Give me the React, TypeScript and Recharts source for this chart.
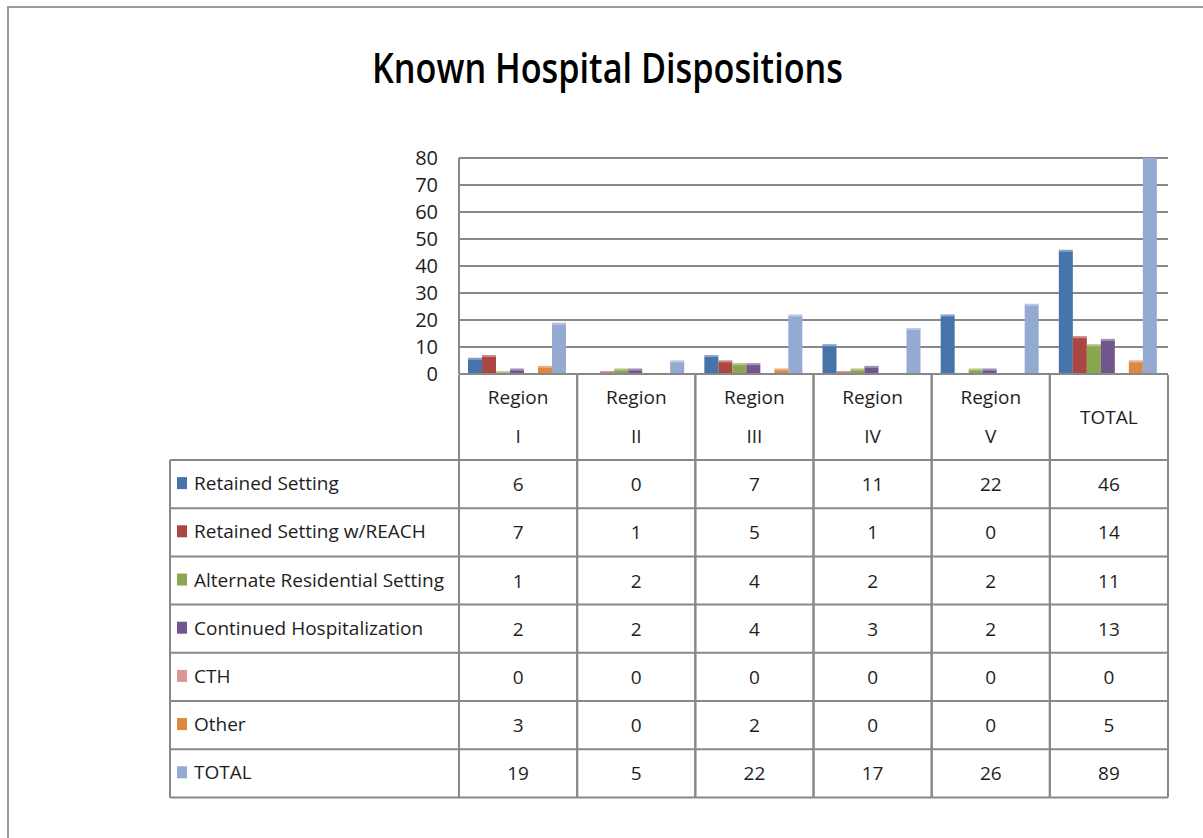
import React from "react";
import { BarChart, Bar, XAxis, YAxis, CartesianGrid } from "recharts";

const categories = ["Region I", "Region II", "Region III", "Region IV", "Region V", "TOTAL"];
const retained = [6, 0, 7, 11, 22, 46];
const retainedReach = [7, 1, 5, 1, 0, 14];
const alternate = [1, 2, 4, 2, 2, 11];
const continued = [2, 2, 4, 3, 2, 13];
const cth = [0, 0, 0, 0, 0, 0];
const other = [3, 0, 2, 0, 0, 5];
const total = [19, 5, 22, 17, 26, 89];
const yTicks = [0, 10, 20, 30, 40, 50, 60, 70, 80];

const series = [
  { key: "retained", name: "Retained Setting", values: retained, color: "#4674AA" },
  { key: "reach", name: "Retained Setting w/REACH", values: retainedReach, color: "#AA4744" },
  { key: "alternate", name: "Alternate Residential Setting", values: alternate, color: "#8AA64F" },
  { key: "continued", name: "Continued Hospitalization", values: continued, color: "#72578F" },
  { key: "cth", name: "CTH", values: cth, color: "#D99795" },
  { key: "other", name: "Other", values: other, color: "#DB8840" },
  { key: "total", name: "TOTAL", values: total, color: "#94AAD2" },
];

const data = categories.map((c, i) => {
  const row: any = { category: c };
  series.forEach((s) => (row[s.key] = s.values[i]));
  return row;
});

// layout
const CHART_W = 1203;
const CHART_H = 838;
const Y_AXIS_W = 60;
const M_LEFT = 399;
const M_RIGHT = 35;
const M_TOP = 158;
const X_AXIS_H = 430;
const M_BOTTOM = CHART_H - 374 - X_AXIS_H;
const PLOT_W = CHART_W - M_LEFT - Y_AXIS_W - M_RIGHT;
const COL_W = PLOT_W / categories.length;
const LABEL_W = 289;
const HEADER_H = 86;
const ROW_H = 48.2;

const FONT = "'Open Sans', 'Noto Sans', sans-serif";
const GRID = "#888888";
const TEXT = "#1e1e1e";
const FS = 19;

const BarShape = (props: any) => {
  const { x, y, width, height, fill } = props;
  if (!height || height <= 0) return null;
  return (
    <g>
      <rect x={x} y={y} width={width} height={height} fill={fill} />
      <rect x={x} y={y} width={width} height={Math.min(2, height)} fill="#ffffff" fillOpacity={0.35} />
    </g>
  );
};

const TableColumn = (props: any) => {
  const { x, y, payload, index } = props;
  const left = x - COL_W / 2;
  const top = y;
  const headerTop = top + 1;
  const headerBottom = top + HEADER_H;
  const tableBottom = headerBottom + ROW_H * series.length;
  const label: string = payload.value;
  const parts = label.split(" ");
  const cells: any[] = [];

  if (parts.length > 1) {
    cells.push(
      <text key="h1" x={x} y={top + 23} textAnchor="middle" dominantBaseline="central" fontSize={FS} fill={TEXT} fontFamily={FONT}>
        {parts[0]}
      </text>
    );
    cells.push(
      <text key="h2" x={x} y={top + 62} textAnchor="middle" dominantBaseline="central" fontSize={FS} fill={TEXT} fontFamily={FONT}>
        {parts.slice(1).join(" ")}
      </text>
    );
  } else {
    cells.push(
      <text key="h1" x={x} y={top + 43} textAnchor="middle" dominantBaseline="central" fontSize={FS} fill={TEXT} fontFamily={FONT}>
        {label}
      </text>
    );
  }
  cells.push(<line key="vl" x1={left} y1={headerTop} x2={left} y2={tableBottom} stroke={GRID} strokeWidth={2} />);
  cells.push(<line key="vr" x1={left + COL_W} y1={headerTop} x2={left + COL_W} y2={tableBottom} stroke={GRID} strokeWidth={2} />);

  series.forEach((s, r) => {
    const rt = headerBottom + ROW_H * r;
    cells.push(<line key={"hl" + r} x1={left} y1={rt} x2={left + COL_W} y2={rt} stroke={GRID} strokeWidth={2} />);
    cells.push(
      <text key={"v" + r} x={x} y={rt + ROW_H / 2} textAnchor="middle" dominantBaseline="central" fontSize={FS} fill={TEXT} fontFamily={FONT}>
        {s.values[index]}
      </text>
    );
  });
  cells.push(<line key="hb" x1={left} y1={tableBottom} x2={left + COL_W} y2={tableBottom} stroke={GRID} strokeWidth={2} />);

  if (index === 0) {
    const lx = left - LABEL_W;
    cells.push(<line key="lv" x1={lx} y1={headerBottom} x2={lx} y2={tableBottom} stroke={GRID} strokeWidth={2} />);
    series.forEach((s, r) => {
      const rt = headerBottom + ROW_H * r;
      cells.push(<line key={"lh" + r} x1={lx} y1={rt} x2={left} y2={rt} stroke={GRID} strokeWidth={2} />);
      cells.push(<rect key={"lk" + r} x={lx + 7} y={rt + ROW_H / 2 - 7} width={10} height={12} fill={s.color} />);
      cells.push(
        <text key={"lt" + r} x={lx + 24} y={rt + ROW_H / 2 - 1} textAnchor="start" dominantBaseline="central" fontSize={FS} fill={TEXT} fontFamily={FONT}>
          {s.name}
        </text>
      );
    });
    cells.push(<line key="lb" x1={lx} y1={tableBottom} x2={left} y2={tableBottom} stroke={GRID} strokeWidth={2} />);
  }
  return <g>{cells}</g>;
};

export default function App() {
  return (
    <div style={{ position: "absolute", left: 0, top: 0, width: CHART_W, height: CHART_H, background: "#fff", overflow: "hidden" }}>
      <div
        style={{
          position: "absolute",
          left: 7,
          top: 6,
          width: CHART_W,
          height: CHART_H,
          borderTop: "2px solid #9a9a9a",
          borderLeft: "2px solid #9a9a9a",
        }}
      />
      <svg width={CHART_W} height={110} style={{ position: "absolute", left: 0, top: 0 }}>
        <text x={372} y={83} fontSize={41} fontWeight={600} fontFamily={FONT} fill="#000" textLength={471} lengthAdjust="spacingAndGlyphs">
          Known Hospital Dispositions
        </text>
      </svg>
      <div style={{ position: "absolute", left: 0, top: 0 }}>
        <BarChart
          width={CHART_W}
          height={CHART_H}
          data={data}
          margin={{ top: M_TOP, left: M_LEFT, right: M_RIGHT, bottom: M_BOTTOM }}
          barCategoryGap={9}
          barGap={0}
        >
          <CartesianGrid vertical={false} stroke={GRID} strokeWidth={2} />
          <YAxis
            width={Y_AXIS_W}
            domain={[0, 80]}
            ticks={yTicks}
            interval={0}
            allowDataOverflow
            axisLine={{ stroke: GRID, strokeWidth: 2 }}
            tickLine={false}
            tickSize={0}
            tickMargin={21}
            tick={{ fontSize: 20, fill: TEXT, fontFamily: FONT }}
          />
          <XAxis
            dataKey="category"
            height={X_AXIS_H}
            interval={0}
            axisLine={{ stroke: GRID, strokeWidth: 2 }}
            tickLine={false}
            tickSize={0}
            tickMargin={0}
            tick={<TableColumn />}
          />
          {series.map((s) => (
            <Bar key={s.key} dataKey={s.key} name={s.name} fill={s.color} isAnimationActive={false} shape={<BarShape />} />
          ))}
        </BarChart>
      </div>
    </div>
  );
}
